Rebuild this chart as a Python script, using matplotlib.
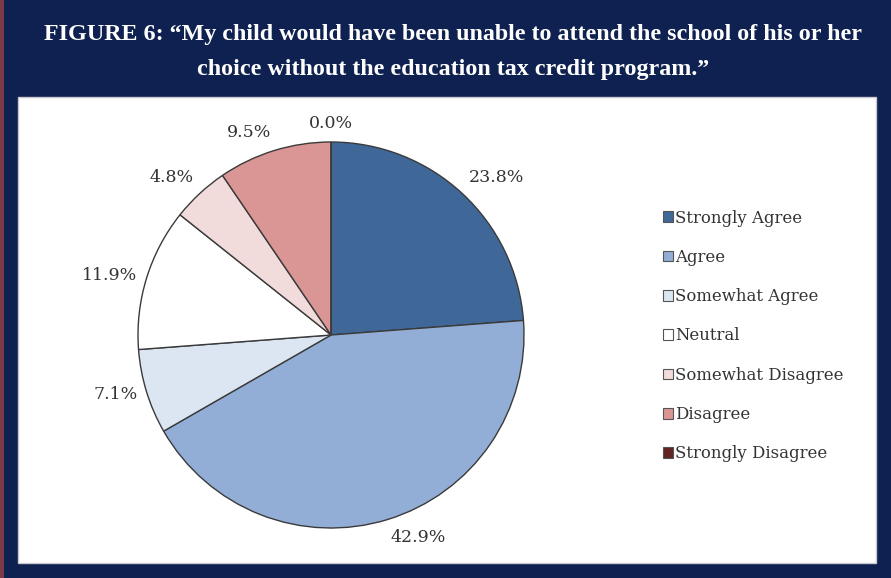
import numpy as np
import matplotlib.pyplot as plt
from matplotlib.patches import Rectangle, Patch

# Survey responses (percent)
categories = ['Strongly Agree', 'Agree', 'Somewhat Agree', 'Neutral',
              'Somewhat Disagree', 'Disagree', 'Strongly Disagree']
shares = [23.8, 42.9, 7.1, 11.9, 4.8, 9.5, 0.0]
colors = ['#3f6899', '#93aed6', '#dce6f2', '#ffffff', '#f2dcdb', '#d99694', '#632523']

title = ('FIGURE 6: \u201cMy child would have been unable to attend the school of his or her\n'
         'choice without the education tax credit program.\u201d')

W, H = 891, 578
fig = plt.figure(figsize=(W / 100, H / 100), dpi=100)
fig.patch.set_facecolor('#0f2150')

# white panel
fig.patches.append(Rectangle((18 / W, (H - 563) / H), (876 - 18) / W, (563 - 97) / H,
                             transform=fig.transFigure, facecolor='white',
                             edgecolor='#c8c8d0', lw=1, zorder=-2))
# thin maroon edge at the left
fig.patches.append(Rectangle((0, 0), 4 / W, 1, transform=fig.transFigure,
                             facecolor='#7a3a4a', edgecolor='none', zorder=-2))

fig.text(453 / W, 1 - 52 / H, title, ha='center', va='center', color='white',
         fontsize=17.3, fontweight='bold', family='Liberation Serif', linespacing=1.86)

cx, cy, r = 331, 335, 193
ax = fig.add_axes([(cx - r) / W, (H - cy - r) / H, 2 * r / W, 2 * r / H])
ax.set_zorder(1)
wedges, texts, autotexts = ax.pie(
    shares, colors=colors, startangle=90, counterclock=False,
    autopct='%.1f%%', pctdistance=1.2,
    wedgeprops=dict(edgecolor='#3a3a3a', linewidth=1.0),
    textprops=dict(family='DejaVu Serif', fontsize=12.5, color='#333333'))
ax.set_xlim(-1, 1)
ax.set_ylim(-1, 1)
ax.set_aspect('equal')
ax.axis('off')

# put labels just outside the rim, aligned away from the pie (Excel "outside end")
for w, t in zip(wedges, autotexts):
    ang = np.deg2rad((w.theta1 + w.theta2) / 2)
    c, s = np.cos(ang), np.sin(ang)
    t.set_position((1.05 * c, 1.05 * s))
    t.set_ha('left' if c > 0.1 else 'right' if c < -0.1 else 'center')
    t.set_va('bottom' if s > 0.5 else 'top' if s < -0.5 else 'center')

handles = [Patch(facecolor=c, edgecolor='#555555', linewidth=0.8) for c in colors]
fig.legend(handles, categories, loc='center left', bbox_to_anchor=(648 / W, 1 - 336 / H),
           frameon=False, handlelength=0.6, handleheight=0.6, handletextpad=0.15,
           labelspacing=1.35, prop=dict(family='DejaVu Serif', size=11.9), labelcolor='#333333')

fig.savefig('out.png', dpi=100, facecolor=fig.get_facecolor())
